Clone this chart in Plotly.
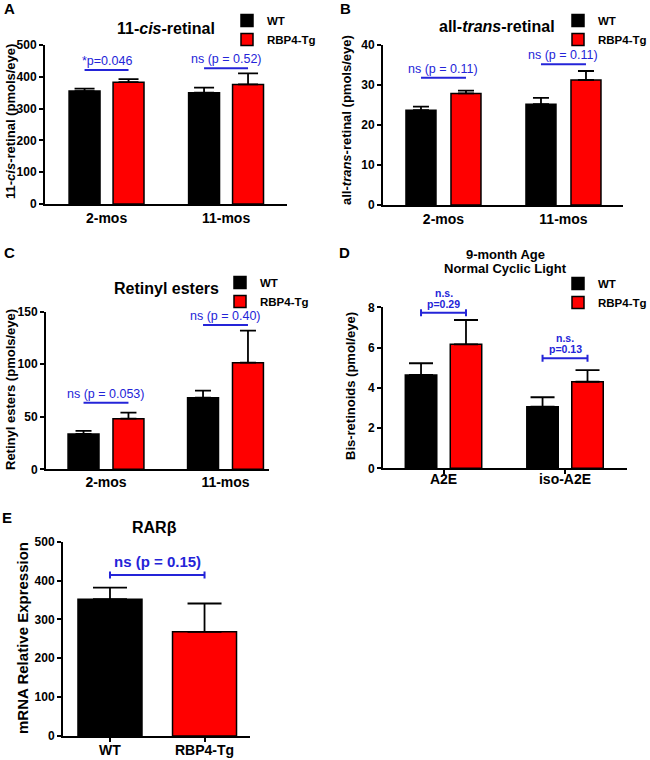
import plotly.graph_objects as go

W, H = 650, 760

# ---------------- data ----------------
series_names = ["WT", "RBP4-Tg"]

# A: 11-cis-retinal (pmols/eye)
a_cats = ["2-mos", "11-mos"]
a_wt = [355, 350]
a_wt_err = [8, 16]
a_tg = [383, 376]
a_tg_err = [10, 35]
a_p_text = ["*p=0.046", "ns (p = 0.52)"]
a_p_y = [421, 427]

# B: all-trans-retinal (pmols/eye)
b_cats = ["2-mos", "11-mos"]
b_wt = [23.7, 25.2]
b_wt_err = [0.9, 1.6]
b_tg = [27.9, 31.25]
b_tg_err = [0.7, 2.25]
b_p_text = ["ns (p = 0.11)", "ns (p = 0.11)"]
b_p_y = [31.8, 35.2]

# C: Retinyl esters (pmols/eye)
c_cats = ["2-mos", "11-mos"]
c_wt = [33.6, 68.1]
c_wt_err = [2.9, 6.7]
c_tg = [48.2, 101.5]
c_tg_err = [5.7, 30.4]
c_p_text = ["ns (p = 0.053)", "ns (p = 0.40)"]
c_p_y = [63.4, 137.3]

# D: Bis-retinoids (pmol/eye)
d_cats = ["A2E", "iso-A2E"]
d_wt = [4.64, 3.06]
d_wt_err = [0.58, 0.47]
d_tg = [6.16, 4.30]
d_tg_err = [1.21, 0.58]
d_p_text = ["p=0.29", "p=0.13"]
d_p_y = [7.73, 5.47]

# E: RARbeta mRNA relative expression
e_cats = ["WT", "RBP4-Tg"]
e_vals = [352, 268]
e_err = [30, 73]
e_p_text = "ns (p = 0.15)"
e_p_y = 414

# ---------------- style ----------------
FONT = "Arial, Liberation Sans, sans-serif"
RED = "#ff0000"
BLACK = "#000000"
BLUE = "#2424d8"
colors = [BLACK, RED]


def px_x(p):
    return p / W


def px_y(p):
    return 1 - p / H


fig = go.Figure()
shapes = []
annotations = []


def add_grouped(n, cats, wt, wt_err, tg, tg_err, half_sep, bar_w, cap, legend_name):
    xa = "x" if n == 1 else f"x{n}"
    ya = "y" if n == 1 else f"y{n}"
    for k, (vals, errs) in enumerate([(wt, wt_err), (tg, tg_err)]):
        center = -half_sep if k == 0 else half_sep
        fig.add_trace(go.Bar(
            x=cats, y=vals, name=series_names[k],
            xaxis=xa, yaxis=ya,
            width=bar_w, offset=center - bar_w / 2,
            marker=dict(color=colors[k], line=dict(color=BLACK, width=1.5)),
            error_y=dict(type="data", array=errs, arrayminus=[0] * len(errs),
                         symmetric=False, color=BLACK, thickness=1.8, width=cap),
            legend=legend_name, showlegend=True,
        ))


def add_bracket(n, x0, x1, y, caps=False):
    xr = "x" if n == 1 else f"x{n}"
    yr = "y" if n == 1 else f"y{n}"
    shapes.append(dict(type="line", xref=xr, yref=yr, x0=x0, x1=x1, y0=y, y1=y,
                       line=dict(color=BLUE, width=2)))
    if caps:
        for xx in (x0, x1):
            shapes.append(dict(type="line", xref=xr, yref=yr, x0=xx, x1=xx,
                               ysizemode="pixel", yanchor=y, y0=-3.5, y1=3.5,
                               line=dict(color=BLUE, width=2)))


def add_label(n, x, y, text, size, bold, yshift):
    xr = "x" if n == 1 else f"x{n}"
    yr = "y" if n == 1 else f"y{n}"
    annotations.append(dict(xref=xr, yref=yr, x=x, y=y, text=text, showarrow=False,
                            yanchor="middle", yshift=yshift,
                            font=dict(family=FONT, size=size, color=BLUE,
                                      weight="bold" if bold else "normal")))


# panels A-D
add_grouped(1, a_cats, a_wt, a_wt_err, a_tg, a_tg_err, 0.184, 0.259, 10, "legend")
add_grouped(2, b_cats, b_wt, b_wt_err, b_tg, b_tg_err, 0.1875, 0.25, 8, "legend2")
add_grouped(3, c_cats, c_wt, c_wt_err, c_tg, c_tg_err, 0.188, 0.259, 8, "legend3")
add_grouped(4, d_cats, d_wt, d_wt_err, d_tg, d_tg_err, 0.185, 0.259, 12, "legend4")

# panel E
fig.add_trace(go.Bar(
    x=e_cats, y=e_vals, xaxis="x5", yaxis="y5",
    width=0.677, offset=-0.3385,
    marker=dict(color=colors, line=dict(color=BLACK, width=1.5)),
    error_y=dict(type="data", array=e_err, arrayminus=[0] * len(e_err),
                 symmetric=False, color=BLACK, thickness=1.8, width=17),
    showlegend=False,
))

# significance brackets
for i in range(2):
    add_bracket(1, i - 0.184, i + 0.184, a_p_y[i])
    add_label(1, i, a_p_y[i], a_p_text[i], 12.5, False, 9)
    add_bracket(2, i - 0.1875, i + 0.1875, b_p_y[i])
    add_label(2, i, b_p_y[i], b_p_text[i], 12.5, False, 9)
    add_bracket(3, i - 0.188, i + 0.188, c_p_y[i])
    add_label(3, i, c_p_y[i], c_p_text[i], 12.5, False, 9)
    add_bracket(4, i - 0.185, i + 0.185, d_p_y[i], caps=True)
    add_label(4, i, d_p_y[i], "n.s.", 10.5, True, 20)
    add_label(4, i, d_p_y[i], d_p_text[i], 10.5, True, 9)
add_bracket(5, 0, 1, e_p_y, caps=True)
add_label(5, 0.5, e_p_y, e_p_text, 15, True, 13.5)


# titles, panel letters, y titles
def paper_text(x, y, text, size, angle=0, weight="bold"):
    annotations.append(dict(xref="paper", yref="paper", x=px_x(x), y=px_y(y), text=text,
                            showarrow=False, xanchor="center", yanchor="middle",
                            textangle=angle,
                            font=dict(family=FONT, size=size, color=BLACK, weight=weight)))


paper_text(166, 29, "11-<i>cis</i>-retinal", 16)
paper_text(497, 27, "all-<i>trans</i>-retinal", 16)
paper_text(166, 288, "Retinyl esters", 16)
paper_text(505, 254, "9-month Age", 13)
paper_text(505, 269, "Normal Cyclic Light", 13)
paper_text(154, 527, "RARβ", 16)

paper_text(9, 9, "A", 15)
paper_text(346, 9, "B", 15)
paper_text(9, 253, "C", 15)
paper_text(344, 253, "D", 15)
paper_text(7, 517, "E", 15)

paper_text(11, 122, "11-<i>cis</i>-retinal (pmols/eye)", 13, -90)
paper_text(346, 120, "all-<i>trans</i>-retinal (pmols/eye)", 13, -90)
paper_text(10, 390, "Retinyl esters (pmols/eye)", 13, -90)
paper_text(350, 386, "Bis-retinoids (pmol/eye)", 13, -90)
paper_text(22, 638, "mRNA Relative Expression", 15, -90)

# ---------------- axes ----------------
panels = {
    # n: (x px left, x px right, y px top, y px bottom, xrange, yrange, dtick, xticks, standoff)
    1: (45, 287, 45, 204, [-0.515, 1.51], [0, 500], 100, False, 0),
    2: (383, 623, 45, 205, [-0.504, 1.496], [0, 40], 10, False, 0),
    3: (46, 269, 311.7, 469.3, [-0.502, 1.364], [0, 150], 50, False, -1),
    4: (383, 627, 307.3, 468.3, [-0.498, 1.51], [0, 8], 2, True, -7),
    5: (63, 250, 541.7, 736, [-0.497, 1.481], [0, 500], 100, True, -4),
}

layout_axes = {}
for n, (xl, xr, yt, yb, xrng, yrng, dt, xt, so) in panels.items():
    sx = "xaxis" if n == 1 else f"xaxis{n}"
    sy = "yaxis" if n == 1 else f"yaxis{n}"
    ya = "y" if n == 1 else f"y{n}"
    xa = "x" if n == 1 else f"x{n}"
    layout_axes[sx] = dict(
        domain=[px_x(xl), px_x(xr)], anchor=ya, type="category", range=xrng,
        showline=True, linecolor=BLACK, linewidth=2, showgrid=False, zeroline=False,
        ticks="outside" if xt else "", ticklen=4, tickwidth=1.5, tickcolor=BLACK,
        ticklabelstandoff=so,
        tickfont=dict(family=FONT, size=14, color=BLACK, weight="bold"),
        fixedrange=True, automargin=False,
    )
    layout_axes[sy] = dict(
        domain=[px_y(yb), px_y(yt)], anchor=xa, range=yrng, dtick=dt, tick0=0,
        showline=True, linecolor=BLACK, linewidth=2, showgrid=False, zeroline=False,
        ticks="outside", ticklen=4, tickwidth=1.5, tickcolor=BLACK,
        tickfont=dict(family=FONT, size=12, color=BLACK, weight="bold"),
        fixedrange=True, automargin=False,
    )


def legend_at(x_text, y_top):
    return dict(x=px_x(x_text - 40), y=px_y(y_top), xanchor="left", yanchor="top",
                bgcolor="rgba(0,0,0,0)", borderwidth=0,
                font=dict(family=FONT, size=11.5, color=BLACK, weight="bold"),
                tracegroupgap=0)


fig.update_layout(
    width=W, height=H,
    margin=dict(l=0, r=0, t=0, b=0, autoexpand=False),
    paper_bgcolor="white", plot_bgcolor="white",
    barmode="overlay",
    showlegend=True,
    legend=legend_at(267, 6),
    legend2=legend_at(598, 6),
    legend3=legend_at(260, 268),
    legend4=legend_at(598, 269),
    shapes=shapes,
    annotations=annotations,
    **layout_axes,
)

fig.write_html(
    "out.html",
    config={"displayModeBar": False},
    post_script="document.body.style.margin='0';document.body.style.overflow='hidden';",
)
